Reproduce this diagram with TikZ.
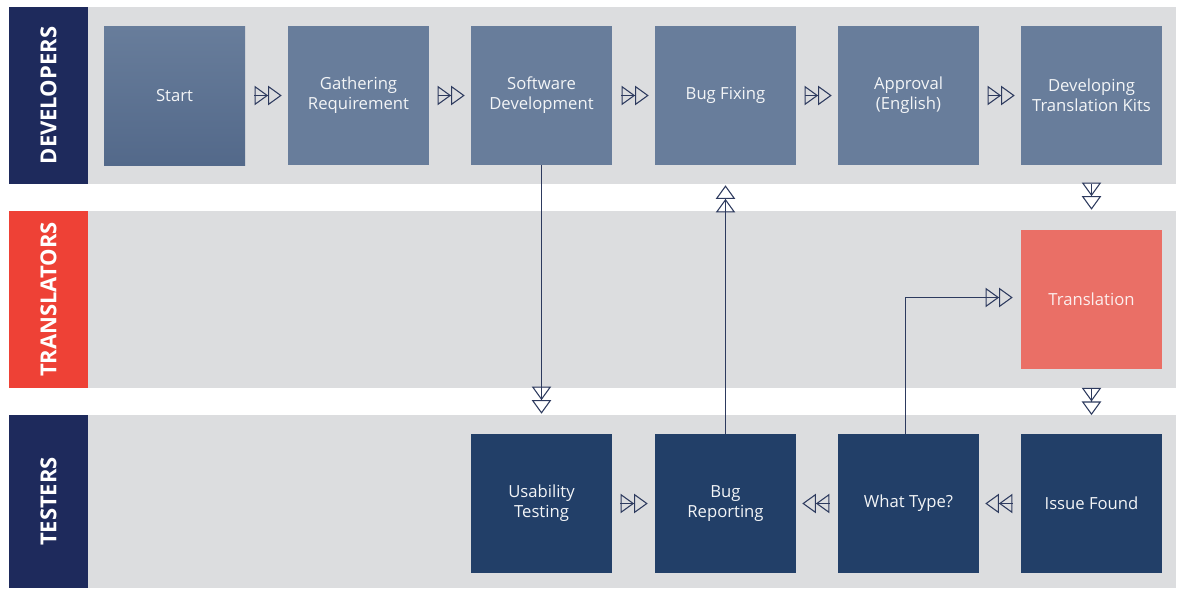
\documentclass[tikz,border=0pt]{standalone}
\usepackage{fontspec}
\setmainfont{Open Sans}
\usetikzlibrary{arrows.meta}
\definecolor{lanegray}{HTML}{DCDDDF}
\definecolor{devslate}{HTML}{687D9B}
\definecolor{devslatedark}{HTML}{53698A}
\definecolor{testnavy}{HTML}{223F68}
\definecolor{lanenavy}{HTML}{1E2A5C}
\definecolor{transred}{HTML}{EE4136}
\definecolor{transsalmon}{HTML}{EA6F66}
\definecolor{flowline}{HTML}{2D3A5E}

\tikzset{
  task/.style={minimum width=105.75pt, minimum height=104.25pt, inner sep=0pt,
    align=center, text=white!92!devslate, font=\fontsize{12.5}{15}\selectfont},
  devtask/.style={task, fill=devslate},
  testtask/.style={task, fill=testnavy},
  lanelabel/.style={rotate=90, text=white, font=\bfseries\fontsize{16.5}{20}\selectfont},
  flow/.style={draw=flowline, line width=0.8pt,
    -{Triangle[open, length=10.2pt, width=14.5pt, sep=0pt] Triangle[open, length=10.2pt, width=14.5pt]}}
}

\begin{document}
\begin{tikzpicture}[x=0.75pt, y=-0.75pt]
        \useasboundingbox (0, 0) rectangle (1178, 589);
        \fill[lanegray] (88, 7) rectangle (1176, 184);
        \fill[lanegray] (88, 211) rectangle (1176, 388);
        \fill[lanegray] (88, 415) rectangle (1176, 588);
        \fill[lanenavy] (9, 7) rectangle (88, 184);
        \fill[transred] (9, 211) rectangle (88, 388);
        \fill[lanenavy] (9, 415) rectangle (88, 588);
        \node[lanelabel] (devs) at (48.5, 95.5) {DEVELOPERS};
        \node[lanelabel] (trans) at (48.5, 299.5) {TRANSLATORS};
        \node[lanelabel] (testers) at (48.5, 501.5) {TESTERS};

        \node[task, top color=devslate, bottom color=devslatedark] (start) at (174.5, 95.5) {Start};
        \node[devtask] (gather) at (358.5, 95.5) {Gathering\\Requirement};
        \node[devtask] (softdev) at (541.5, 95.5) {Software\\Development};
        \node[devtask] (bugfix) at (725.5, 95.5) {Bug Fixing};
        \node[devtask] (approval) at (908.5, 95.5) {Approval\\(English)};
        \node[devtask] (kits) at (1091.5, 95.5) {Developing\\Translation Kits};
        \node[task, fill=transsalmon, text=white!88!transsalmon] (transl) at (1091.5, 299.5) {Translation};
        \node[testtask] (usability) at (541.5, 503.5) {Usability\\Testing};
        \node[testtask] (bugrep) at (725.5, 503.5) {Bug\\Reporting};
        \node[testtask] (wtype) at (908.5, 503.5) {What Type?};
        \node[testtask] (issue) at (1091.5, 503.5) {Issue Found};

        \draw[flow, shorten <=6.75pt, shorten >=4.5pt] (start) -- (gather);
        \draw[flow, shorten <=6.75pt, shorten >=4.5pt] (gather) -- (softdev);
        \draw[flow, shorten <=6.75pt, shorten >=4.5pt] (softdev) -- (bugfix);
        \draw[flow, shorten <=6.75pt, shorten >=4.5pt] (bugfix) -- (approval);
        \draw[flow, shorten <=6.75pt, shorten >=4.5pt] (approval) -- (kits);
        \draw[flow, shorten >=15pt] (softdev) -- (usability);
        \draw[flow, shorten >=15pt] (bugrep) -- (bugfix);
        \draw[flow, shorten <=14.25pt, shorten >=15pt] (kits) -- (transl);
        \draw[flow, shorten <=14pt, shorten >=14pt] (transl) -- (issue);
        \draw[flow, shorten <=6pt, shorten >=4.5pt] (issue) -- (wtype);
        \draw[flow, shorten <=6pt, shorten >=4.5pt] (wtype) -- (bugrep);
        \draw[flow, shorten <=6pt, shorten >=5.25pt] (usability) -- (bugrep);
        \draw[flow, shorten >=6pt] ([xshift=-2.25pt]wtype.north) |- ([yshift=1.5pt]transl.west);
      \end{tikzpicture}
\end{document}
